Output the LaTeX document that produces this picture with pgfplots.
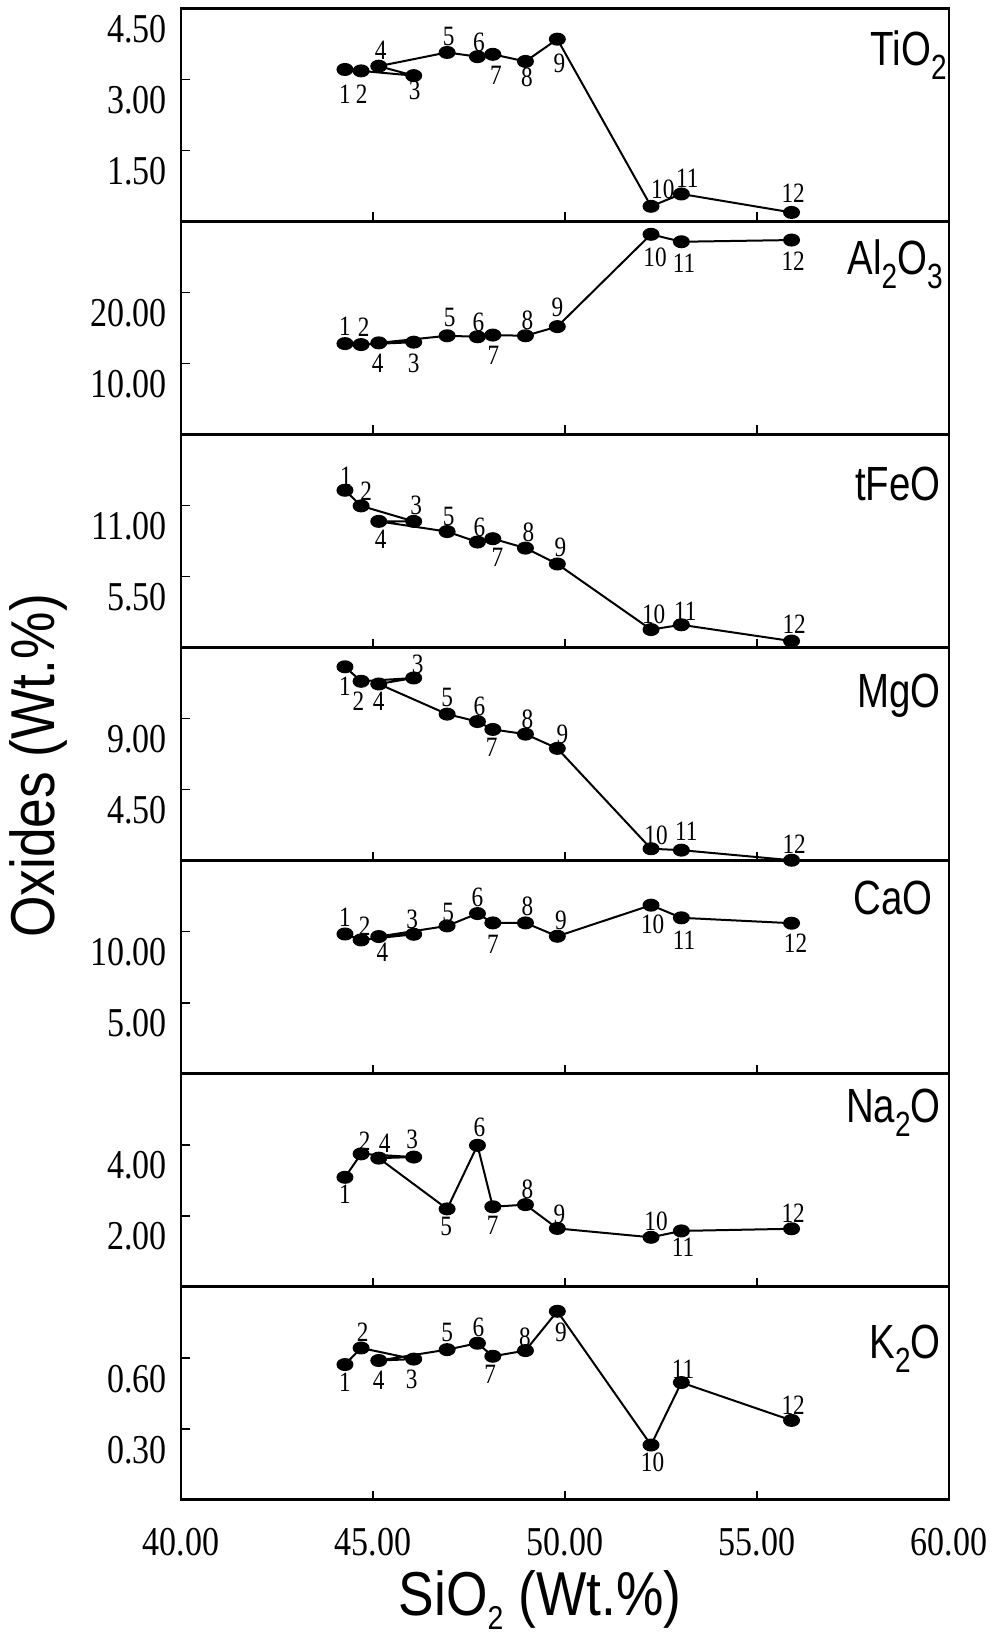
\documentclass[border=0pt]{standalone}
\usepackage{fontspec}
\setmainfont{Liberation Serif}[FakeStretch=0.83]
\newfontfamily\sansn{Liberation Sans}[FakeStretch=0.80]
\newfontfamily\sansw{Liberation Sans}[FakeStretch=0.86]
\usepackage{pgfplots}
\usepackage{pgfplotstable}
\pgfplotsset{compat=1.18}
\newcommand\tickfont{\fontsize{20.5pt}{20.5pt}\selectfont}
\newcommand\numfont{\fontsize{14pt}{14pt}\selectfont}
\newcommand\lblfont{\sansn\fontsize{24pt}{24pt}\selectfont}
\newcommand\psub[1]{\raisebox{-7pt}{\fontsize{17.5pt}{17.5pt}\selectfont #1}}
\newcommand\asub[1]{\raisebox{-7pt}{\fontsize{16.5pt}{16.5pt}\selectfont #1}}

\pgfplotstableread{
x y lab dx dy
44.27 3.21 1 0 -12.2
44.69 3.18 2 0.3 -11.7
46.06 3.08 3 0.5 -7.5
45.15 3.28 4 1 7.8
46.93 3.57 5 0.8 8
47.72 3.48 6 0.8 7.2
48.12 3.53 7 1.5 -10.7
48.97 3.38 8 0.8 -8.2
49.80 3.85 9 1 -12.3
52.24 0.32 10 5.9 8.3
53.03 0.58 11 3 7.7
55.90 0.19 12 0.8 9.7
}\TiO
\pgfplotstableread{
x y lab dx dy
44.27 12.80 1 0 8.7
44.69 12.66 2 1.3 8.7
46.06 13.00 3 0 -10.5
45.15 12.90 4 -0.5 -10
46.93 13.90 5 1.3 9
47.72 13.76 6 0.5 7.3
48.12 14.00 7 0.3 -10
48.97 13.90 8 1 7.7
49.80 15.19 9 0 9.5
52.24 28.19 10 2 -11.3
53.03 27.14 11 1.3 -10.5
55.90 27.38 12 0.8 -10.5
}\AlO
\pgfplotstableread{
x y lab dx dy
44.27 12.18 1 0.5 7.2
44.69 10.97 2 2.5 7.3
46.06 9.77 3 1.3 7.8
45.15 9.77 4 1 -9.2
46.93 8.98 5 0.8 7.8
47.72 8.17 6 1 7.2
48.12 8.43 7 2.3 -9.5
48.97 7.70 8 1.5 7.8
49.80 6.47 9 1.5 8.2
52.24 1.39 10 1.3 7.8
53.03 1.76 11 2 6.8
55.90 0.50 12 1.3 8.2
}\FeO
\pgfplotstableread{
x y lab dx dy
44.27 12.28 1 0 -9.8
44.69 11.36 2 -1.3 -10.2
46.06 11.57 3 2 7
45.15 11.19 4 0 -8.7
46.93 9.28 5 0 8.2
47.72 8.81 6 1 7.7
48.12 8.31 7 -0.5 -8.8
48.97 8.01 8 1 7.2
49.80 7.11 9 2.5 7
52.24 0.75 10 2.5 6.7
53.03 0.66 11 2.5 9.3
55.90 0.02 12 1.3 8
}\MgO
\pgfplotstableread{
x y lab dx dy
44.27 9.83 1 0 8.3
44.69 9.41 2 1.8 6.7
46.06 9.81 3 -0.8 7.3
45.15 9.65 4 1.8 -7.8
46.93 10.40 5 0.5 6.8
47.72 11.27 6 0 8.2
48.12 10.61 7 0 -10.5
48.97 10.61 8 1 8.2
49.80 9.67 9 1.8 7.8
52.24 11.86 10 0.8 -9.7
53.03 10.97 11 1.3 -11.3
55.90 10.59 12 2 -9.8
}\CaO
\pgfplotstableread{
x y lab dx dy
44.27 3.08 1 0 -8.7
44.69 3.74 2 1.8 6.2
46.06 3.65 3 -0.8 8.8
45.15 3.62 4 3 7.5
46.93 2.19 5 -0.5 -8.7
47.72 3.98 6 1 9.2
48.12 2.25 7 0 -9.2
48.97 2.31 8 1 7.5
49.80 1.64 9 1 6.8
52.24 1.39 10 2.5 7.8
53.03 1.57 11 0.8 -8.2
55.90 1.63 12 0.8 7.8
}\NaO
\pgfplotstableread{
x y lab dx dy
44.27 0.571 1 0 -8.8
44.69 0.641 2 0.8 7.8
46.06 0.594 3 -1 -10.3
45.15 0.588 4 0 -9.7
46.93 0.634 5 0 8.7
47.72 0.661 6 0.5 7.7
48.12 0.606 7 -1.3 -8.8
48.97 0.630 8 -0.3 6.7
49.80 0.796 9 1.8 -10.5
52.24 0.231 10 0.8 -8.5
53.03 0.495 11 0.8 6.8
55.90 0.335 12 0.8 7.5
}\KO

\tikzset{plbl/.style={anchor=base east, font=\lblfont, inner sep=0pt}}
\pgfplotsset{
  panel/.style={
    width=384pt, height=106.52pt, scale only axis,
    anchor=south west,
    xmin=40, xmax=60, clip=false,
    tick align=inside, xtick pos=left, ytick pos=left,
    major tick length=4.5pt,
    axis line style={line width=1.3pt},
    every tick/.style={black, line width=0.9pt},
    xtick={45,50,55}, xticklabels={},
    ticklabel style={font=\tickfont},
    yticklabel style={anchor=east, inner sep=0pt, xshift=-7pt, yshift=-10.5pt},
  },
  series/.style={
    black, line width=1pt,
    mark=*, mark size=2.75pt,
    mark options={xscale=1.36, solid, fill=black},
    point meta=explicit symbolic,
    nodes near coords,
    visualization depends on={\thisrow{dx}\as\dx},
    visualization depends on={\thisrow{dy}\as\dy},
    every node near coord/.append style={anchor=center, inner sep=0pt,
      xshift=\dx pt, yshift=\dy pt, font=\numfont, text=black},
  },
}

\begin{document}
\begin{tikzpicture}
% TiO2
\begin{axis}[panel, at={(0pt,639.12pt)}, ymin=0, ymax=4.5,
  ytick={1.5,3,4.5}, yticklabels={1.50,3.00,4.50}]
\addplot[series] table[x=x,y=y,meta=lab]{\TiO};
\node[plbl, xshift=-1pt, yshift=-28.3pt] at (rel axis cs:1,1) {TiO\psub{2}};
\end{axis}
% Al2O3
\begin{axis}[panel, at={(0pt,532.60pt)}, ymin=0, ymax=30,
  ytick={10,20}, yticklabels={10.00,20.00}]
\addplot[series] table[x=x,y=y,meta=lab]{\AlO};
\node[plbl, xshift=-3pt, yshift=-26.4pt] at (rel axis cs:1,1) {Al\psub{2}O\psub{3}};
\end{axis}
% tFeO
\begin{axis}[panel, at={(0pt,426.08pt)}, ymin=0, ymax=16.5,
  ytick={5.5,11}, yticklabels={5.50,11.00}]
\addplot[series] table[x=x,y=y,meta=lab]{\FeO};
\node[plbl, xshift=-4pt, yshift=-33pt] at (rel axis cs:1,1) {tFeO};
\end{axis}
% MgO
\begin{axis}[panel, at={(0pt,319.56pt)}, ymin=0, ymax=13.5,
  ytick={4.5,9}, yticklabels={4.50,9.00}]
\addplot[series] table[x=x,y=y,meta=lab]{\MgO};
\node[plbl, xshift=-4pt, yshift=-30pt] at (rel axis cs:1,1) {MgO};
\end{axis}
% CaO
\begin{axis}[panel, at={(0pt,213.04pt)}, ymin=0, ymax=15,
  ytick={5,10}, yticklabels={5.00,10.00}]
\addplot[series] table[x=x,y=y,meta=lab]{\CaO};
\node[plbl, xshift=-8pt, yshift=-27pt] at (rel axis cs:1,1) {CaO};
\end{axis}
% Na2O
\begin{axis}[panel, at={(0pt,106.52pt)}, ymin=0, ymax=6,
  ytick={2,4}, yticklabels={2.00,4.00}]
\addplot[series] table[x=x,y=y,meta=lab]{\NaO};
\node[plbl, xshift=-4pt, yshift=-24.5pt] at (rel axis cs:1,1) {Na\psub{2}O};
\end{axis}
% K2O
\begin{axis}[panel, at={(0pt,0pt)}, ymin=0, ymax=0.9,
  ytick={0.3,0.6}, yticklabels={0.30,0.60},
  xtick={40,45,50,55,60}, xticklabels={40.00,45.00,50.00,55.00,60.00},
  xticklabel style={anchor=north, inner sep=0pt, yshift=-14pt}]
\addplot[series] table[x=x,y=y,meta=lab]{\KO};
\node[plbl, xshift=-4pt, yshift=-35.7pt] at (rel axis cs:1,1) {K\psub{2}O};
\end{axis}
% axis titles
\node[anchor=base, rotate=90, inner sep=0pt, font=\sansw\fontsize{31pt}{31pt}\selectfont] at (-63pt,366.85pt) {Oxides (Wt.\%)};
\node[anchor=base, inner sep=0pt, font=\sansw\fontsize{31pt}{31pt}\selectfont] at (179.5pt,-58pt) {SiO\asub{2} (Wt.\%)};
\pgfresetboundingbox
\useasboundingbox (-90.5pt,-69.15pt) rectangle (407.5pt,749.85pt);
\end{tikzpicture}
\end{document}
